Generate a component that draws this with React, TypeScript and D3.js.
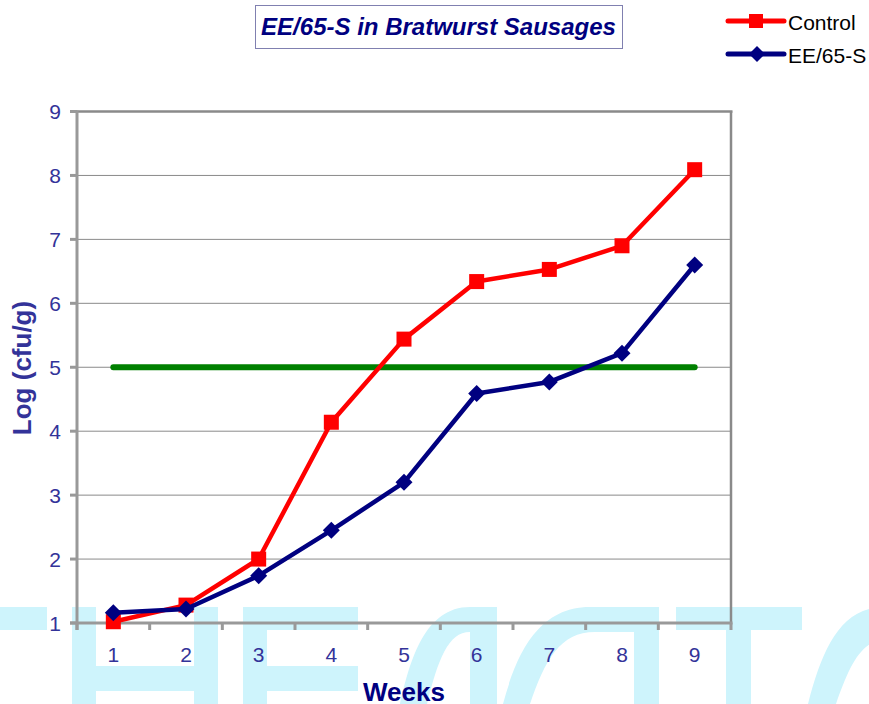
import React from "react";
import * as d3 from "d3";

const weeks = [1, 2, 3, 4, 5, 6, 7, 8, 9];
const controlValues = [1.02, 1.28, 2.0, 4.14, 5.44, 6.34, 6.53, 6.9, 8.09];
const ee65Values = [1.16, 1.22, 1.74, 2.45, 3.2, 4.59, 4.77, 5.22, 6.6];
const limitValue = 5;
const yTicks = [1, 2, 3, 4, 5, 6, 7, 8, 9];
const seriesNames = ["Control", "EE/65-S"];

const W = 869;
const H = 704;
const left = 77;
const right = 731;
const top = 111.5;
const bottom = 623;
const FONT = "'Liberation Sans', Arial, sans-serif";
const WM = "#cef4fc";

export default function App() {
  const x = d3.scaleBand<number>().domain(weeks).range([left, right]).padding(0);
  const y = d3.scaleLinear().domain([1, 9]).range([bottom, top]);
  const cx = (w: number) => (x(w) as number) + x.bandwidth() / 2;
  const line = d3
    .line<number>()
    .x((_, i) => cx(weeks[i]))
    .y((v) => y(v));

  const tickXs = d3.range(weeks.length + 1).map((i) => left + i * x.bandwidth());

  const sq = 15;
  const dia = (px: number, py: number, r: number) =>
    `M${px},${py - r}L${px + r},${py}L${px},${py + r}L${px - r},${py}Z`;

  return (
    <div style={{ position: "absolute", left: 0, top: 0 }}>
      <svg width={W} height={H} style={{ display: "block", background: "#fff" }}>
        {/* watermark */}
        <g fill={WM}>
          <rect x={0} y={607} width={47} height={23} />
          <rect x={72} y={607} width={24} height={97} />
          <rect x={96} y={666} width={98} height={25} />
          <rect x={194} y={607} width={24} height={97} />
          <rect x={243} y={607} width={24} height={97} />
          <rect x={267} y={607} width={91} height={23} />
          <rect x={267} y={666} width={91} height={25} />
          <path d="M400,704 C410,660 425,607 470,607 L497,607 L497,704 L470,704 L470,632 C448,632 438,660 427,704 Z" />
          <path d="M503,704 C515,660 535,607 590,607 L659,607 L659,704 L634,704 L634,632 L595,632 C560,632 545,660 530,704 Z" />
          <rect x={676} y={607} width={126} height={23} />
          <rect x={726} y={630} width={25} height={74} />
          <path d="M808,704 C822,650 840,607 885,607 L885,640 C860,640 848,670 836,704 Z" />
        </g>

        {/* title */}
        <rect x={255.5} y={5.5} width={367} height={43} fill="#fff" stroke="#8080b0" strokeWidth={1} />
        <text
          x={438.5}
          y={35}
          textAnchor="middle"
          fontFamily={FONT}
          fontSize={24}
          fontWeight="bold"
          fontStyle="italic"
          fill="#000080"
        >
          EE/65-S in Bratwurst Sausages
        </text>

        {/* gridlines */}
        {yTicks
          .filter((t) => t > 1 && t < 9)
          .map((t) => (
            <line key={t} x1={left} x2={right} y1={y(t)} y2={y(t)} stroke="#8a8a8a" strokeWidth={1} />
          ))}
        {/* top & right border */}
        <line x1={left} x2={right + 1.5} y1={y(9)} y2={y(9)} stroke="#8a8a8a" strokeWidth={2.5} />
        <line x1={right} x2={right} y1={top} y2={bottom} stroke="#8a8a8a" strokeWidth={2.5} />

        {/* y axis */}
        <line x1={left} x2={left} y1={top - 1} y2={bottom + 7} stroke="#999" strokeWidth={3} />
        {yTicks.map((t) => (
          <g key={t}>
            <line x1={left - 7} x2={left} y1={y(t)} y2={y(t)} stroke="#999" strokeWidth={3} />
            <text
              x={61}
              y={y(t) + 7.5}
              textAnchor="end"
              fontFamily={FONT}
              fontSize={21}
              fill="#333399"
            >
              {t}
            </text>
          </g>
        ))}

        {/* x axis */}
        <line x1={left - 7} x2={right + 1.5} y1={bottom} y2={bottom} stroke="#999" strokeWidth={3} />
        {tickXs.map((tx, i) => (
          <line key={i} x1={tx} x2={tx} y1={bottom} y2={bottom + 7} stroke="#999" strokeWidth={3} />
        ))}
        {weeks.map((w) => (
          <text key={w} x={cx(w)} y={662} textAnchor="middle" fontFamily={FONT} fontSize={21} fill="#333399">
            {w}
          </text>
        ))}

        {/* axis titles */}
        <text x={404} y={701} textAnchor="middle" fontFamily={FONT} fontSize={26} fontWeight="bold" fill="#000080">
          Weeks
        </text>
        <text
          transform={`translate(31,368) rotate(-90)`}
          textAnchor="middle"
          fontFamily={FONT}
          fontSize={26}
          fontWeight="bold"
          fill="#333399"
        >
          Log (cfu/g)
        </text>

        {/* limit line */}
        <line
          x1={cx(weeks[0])}
          x2={cx(weeks[weeks.length - 1])}
          y1={y(limitValue)}
          y2={y(limitValue)}
          stroke="#008000"
          strokeWidth={6}
          strokeLinecap="round"
        />

        {/* series */}
        <path d={line(controlValues) || ""} fill="none" stroke="#ff0000" strokeWidth={4.5} strokeLinejoin="round" />
        {controlValues.map((v, i) => (
          <rect key={i} x={cx(weeks[i]) - sq / 2} y={y(v) - sq / 2} width={sq} height={sq} fill="#ff0000" />
        ))}
        <path d={line(ee65Values) || ""} fill="none" stroke="#000080" strokeWidth={4.5} strokeLinejoin="round" />
        {ee65Values.map((v, i) => (
          <path key={i} d={dia(cx(weeks[i]), y(v), 8.5)} fill="#000080" />
        ))}

        {/* legend */}
        <line x1={728} x2={784} y1={21} y2={21} stroke="#ff0000" strokeWidth={5} strokeLinecap="round" />
        <rect x={756 - 7} y={21 - 7} width={14} height={14} fill="#ff0000" />
        <text x={788} y={30} fontFamily={FONT} fontSize={21} fill="#000">
          {seriesNames[0]}
        </text>
        <line x1={728} x2={784} y1={54} y2={54} stroke="#000080" strokeWidth={5} strokeLinecap="round" />
        <path d={dia(757, 54, 8)} fill="#000080" />
        <text x={788} y={63} fontFamily={FONT} fontSize={21} fill="#000">
          {seriesNames[1]}
        </text>
      </svg>
    </div>
  );
}
